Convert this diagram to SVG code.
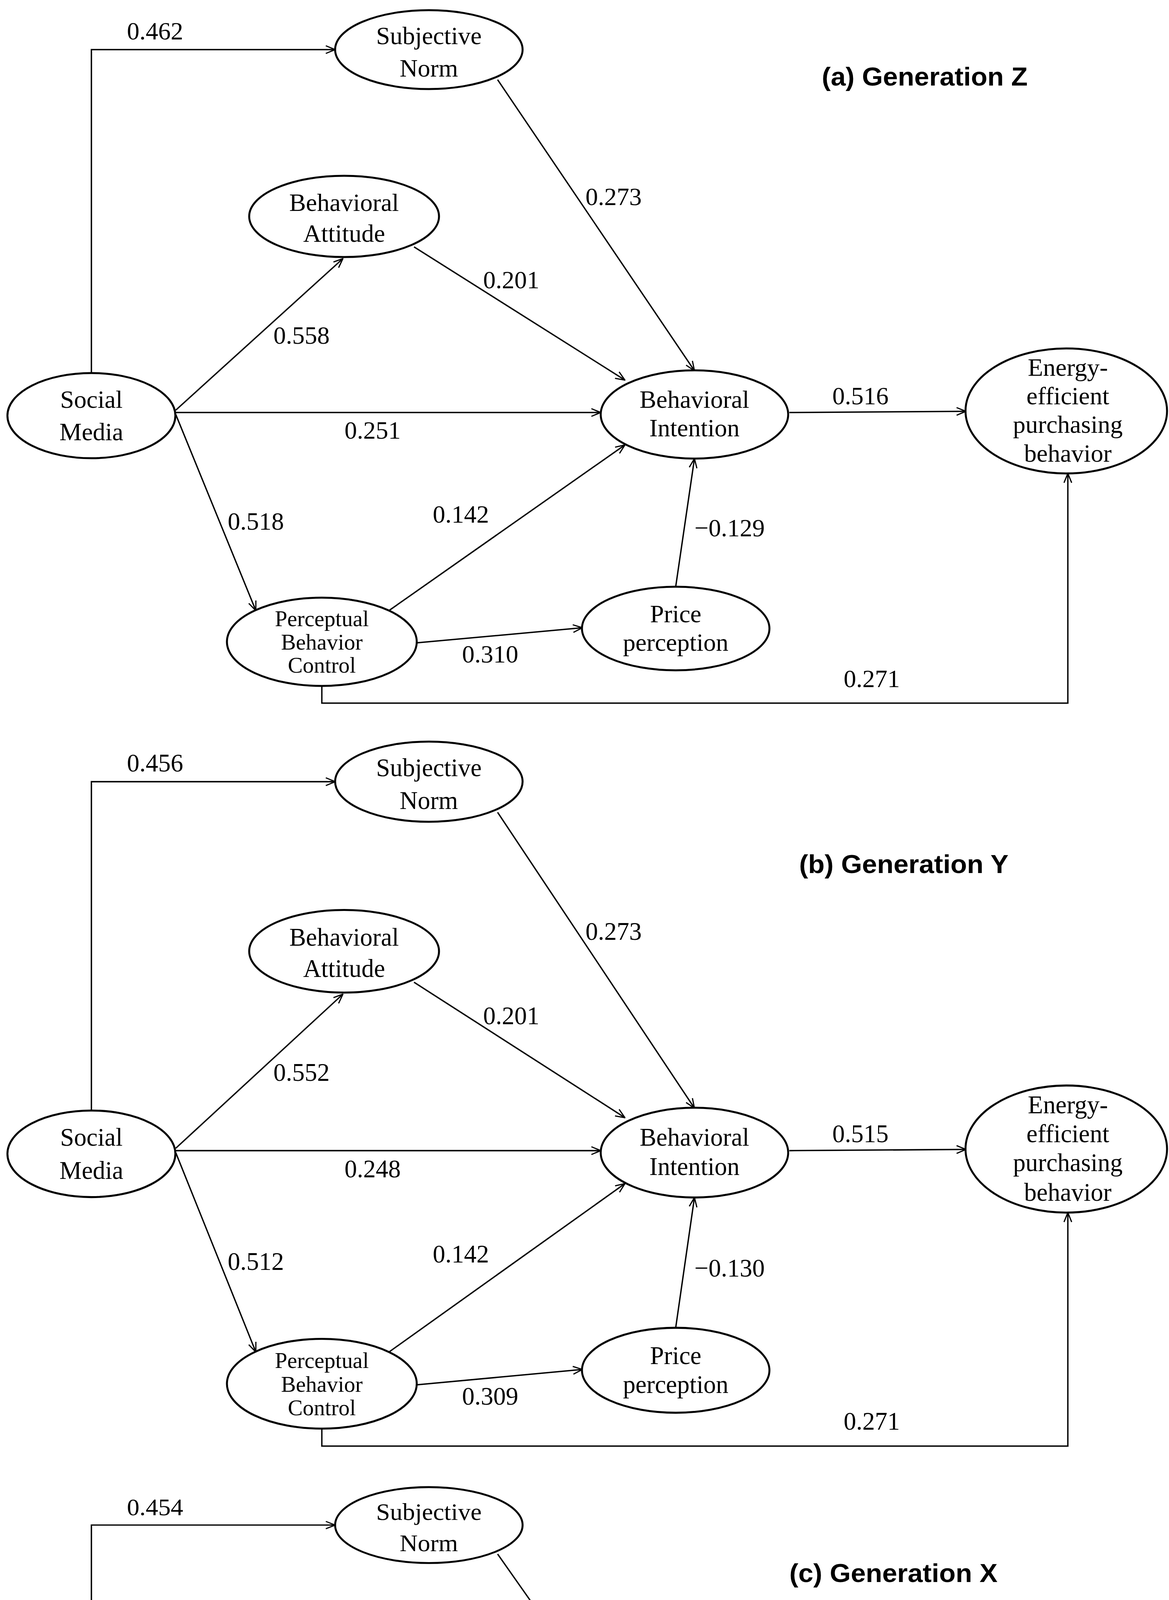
<svg xmlns="http://www.w3.org/2000/svg" width="2993" height="5520" viewBox="0 0 2993 5520">
<style>
.n{fill:#fff;stroke:#000;stroke-width:5}
.t{font-family:"Liberation Serif",serif;font-size:64px;text-anchor:middle;fill:#000}
.s{font-size:57px}
.h{font-family:"Liberation Sans",sans-serif;font-weight:bold;font-size:66px;fill:#000}
.c{fill:none;stroke:#000;stroke-width:3.5;marker-end:url(#a)}
</style>
<defs>
<marker id="a" viewBox="0 0 20 20" refX="19" refY="10" markerWidth="28" markerHeight="28" markerUnits="userSpaceOnUse" orient="auto">
<polyline points="2,3 19,10 2,17" fill="none" stroke="#000" stroke-width="2.2"/>
</marker>
</defs>
<rect width="2993" height="5520" fill="#fff"/>
<text class="h" x="2104" y="219" textLength="527" lengthAdjust="spacingAndGlyphs">(a) Generation Z</text>
<text class="h" x="2046" y="2235" textLength="536" lengthAdjust="spacingAndGlyphs">(b) Generation Y</text>
<text class="h" x="2021" y="4050" textLength="533" lengthAdjust="spacingAndGlyphs">(c) Generation X</text>

<g id="panelA">
<g id="connectorsA">
<polyline class="c" points="234,955 234,127 858,127"/>
<line class="c" x1="1274" y1="204" x2="1778" y2="949"/>
<line class="c" x1="1060" y1="632" x2="1600" y2="973"/>
<line class="c" x1="450" y1="1050" x2="878" y2="662"/>
<line class="c" x1="450" y1="1056" x2="1538" y2="1056"/>
<line class="c" x1="2021" y1="1056" x2="2473" y2="1053"/>
<line class="c" x1="450" y1="1061" x2="655" y2="1563"/>
<line class="c" x1="996" y1="1563" x2="1600" y2="1139"/>
<line class="c" x1="1063" y1="1646" x2="1491" y2="1607"/>
<line class="c" x1="1730" y1="1502" x2="1778" y2="1174"/>
<polyline class="c" points="824,1756 824,1800 2734,1800 2734,1212"/>
</g>
<g class="t">
<text x="397" y="101">0.462</text><text x="1571" y="525">0.273</text><text x="1309" y="738">0.201</text>
<text x="772" y="880">0.558</text><text x="2203" y="1035">0.516</text><text x="954" y="1123">0.251</text>
<text x="655" y="1356">0.518</text><text x="1180" y="1338">0.142</text><text x="1868" y="1373">−0.129</text>
<text x="1255" y="1696">0.310</text><text x="2232" y="1759">0.271</text>
</g>
<g id="snA"><ellipse class="n" cx="1098" cy="127" rx="240" ry="101"/><text class="t" x="1098" y="113">Subjective</text><text class="t" x="1098" y="196">Norm</text></g>
<g id="baA"><ellipse class="n" cx="881" cy="554" rx="243" ry="104"/><text class="t" x="881" y="540">Behavioral</text><text class="t" x="881" y="619">Attitude</text></g>
<g id="smA"><ellipse class="n" cx="234" cy="1064" rx="215" ry="109"/><text class="t" x="234" y="1044">Social</text><text class="t" x="234" y="1127">Media</text></g>
<g id="biA"><ellipse class="n" cx="1778" cy="1061" rx="240" ry="113"/><text class="t" x="1778" y="1044">Behavioral</text><text class="t" x="1778" y="1117">Intention</text></g>
<g id="eeA"><ellipse class="n" cx="2730" cy="1052" rx="258" ry="160"/><text class="t" x="2734" y="962">Energy-</text><text class="t" x="2734" y="1035">efficient</text><text class="t" x="2734" y="1108">purchasing</text><text class="t" x="2734" y="1182">behavior</text></g>
<g id="pbcA"><ellipse class="n" cx="824" cy="1643" rx="243" ry="113"/><text class="t s" x="824" y="1603">Perceptual</text><text class="t s" x="824" y="1663">Behavior</text><text class="t s" x="824" y="1722">Control</text></g>
<g id="ppA"><ellipse class="n" cx="1730" cy="1609" rx="240" ry="107"/><text class="t" x="1730" y="1593">Price</text><text class="t" x="1730" y="1666">perception</text></g>
</g>

<g id="panelB" transform="translate(0,1872) scale(1,1.0167)">
<g id="connectorsB">
<polyline class="c" points="234,955 234,127 858,127"/>
<line class="c" x1="1274" y1="204" x2="1778" y2="949"/>
<line class="c" x1="1060" y1="632" x2="1600" y2="973"/>
<line class="c" x1="450" y1="1050" x2="878" y2="662"/>
<line class="c" x1="450" y1="1056" x2="1538" y2="1056"/>
<line class="c" x1="2021" y1="1056" x2="2473" y2="1053"/>
<line class="c" x1="450" y1="1061" x2="655" y2="1563"/>
<line class="c" x1="996" y1="1563" x2="1600" y2="1139"/>
<line class="c" x1="1063" y1="1646" x2="1491" y2="1607"/>
<line class="c" x1="1730" y1="1502" x2="1778" y2="1174"/>
<polyline class="c" points="824,1756 824,1800 2734,1800 2734,1212"/>
</g>
<g class="t">
<text x="397" y="101">0.456</text><text x="1571" y="525">0.273</text><text x="1309" y="738">0.201</text>
<text x="772" y="880">0.552</text><text x="2203" y="1035">0.515</text><text x="954" y="1123">0.248</text>
<text x="655" y="1356">0.512</text><text x="1180" y="1338">0.142</text><text x="1868" y="1373">−0.130</text>
<text x="1255" y="1696">0.309</text><text x="2232" y="1759">0.271</text>
</g>
<g id="snB"><ellipse class="n" cx="1098" cy="127" rx="240" ry="101"/><text class="t" x="1098" y="113">Subjective</text><text class="t" x="1098" y="196">Norm</text></g>
<g id="baB"><ellipse class="n" cx="881" cy="554" rx="243" ry="104"/><text class="t" x="881" y="540">Behavioral</text><text class="t" x="881" y="619">Attitude</text></g>
<g id="smB"><ellipse class="n" cx="234" cy="1064" rx="215" ry="109"/><text class="t" x="234" y="1044">Social</text><text class="t" x="234" y="1127">Media</text></g>
<g id="biB"><ellipse class="n" cx="1778" cy="1061" rx="240" ry="113"/><text class="t" x="1778" y="1044">Behavioral</text><text class="t" x="1778" y="1117">Intention</text></g>
<g id="eeB"><ellipse class="n" cx="2730" cy="1052" rx="258" ry="160"/><text class="t" x="2734" y="962">Energy-</text><text class="t" x="2734" y="1035">efficient</text><text class="t" x="2734" y="1108">purchasing</text><text class="t" x="2734" y="1182">behavior</text></g>
<g id="pbcB"><ellipse class="n" cx="824" cy="1643" rx="243" ry="113"/><text class="t s" x="824" y="1603">Perceptual</text><text class="t s" x="824" y="1663">Behavior</text><text class="t s" x="824" y="1722">Control</text></g>
<g id="ppB"><ellipse class="n" cx="1730" cy="1609" rx="240" ry="107"/><text class="t" x="1730" y="1593">Price</text><text class="t" x="1730" y="1666">perception</text></g>
</g>

<g id="panelC" transform="translate(0,3782) scale(1,0.962)">
<g id="connectorsC">
<polyline class="c" points="234,955 234,127 858,127"/>
<line class="c" x1="1274" y1="204" x2="1778" y2="949"/>
<line class="c" x1="1060" y1="632" x2="1600" y2="973"/>
<line class="c" x1="450" y1="1050" x2="878" y2="662"/>
<line class="c" x1="450" y1="1056" x2="1538" y2="1056"/>
<line class="c" x1="2021" y1="1056" x2="2473" y2="1053"/>
<line class="c" x1="450" y1="1061" x2="655" y2="1563"/>
<line class="c" x1="996" y1="1563" x2="1600" y2="1139"/>
<line class="c" x1="1063" y1="1646" x2="1491" y2="1607"/>
<line class="c" x1="1730" y1="1502" x2="1778" y2="1174"/>
<polyline class="c" points="824,1756 824,1800 2734,1800 2734,1212"/>
</g>
<g class="t">
<text x="397" y="101">0.454</text><text x="1571" y="525">0.274</text><text x="1309" y="738">0.201</text>
<text x="772" y="880">0.550</text><text x="2203" y="1035">0.515</text><text x="954" y="1123">0.248</text>
<text x="655" y="1356">0.510</text><text x="1180" y="1338">0.142</text><text x="1868" y="1373">−0.130</text>
<text x="1255" y="1696">0.309</text><text x="2232" y="1759">0.271</text>
</g>
<g id="snC"><ellipse class="n" cx="1098" cy="127" rx="240" ry="101"/><text class="t" x="1098" y="113">Subjective</text><text class="t" x="1098" y="196">Norm</text></g>
<g id="baC"><ellipse class="n" cx="881" cy="554" rx="243" ry="104"/><text class="t" x="881" y="540">Behavioral</text><text class="t" x="881" y="619">Attitude</text></g>
<g id="smC"><ellipse class="n" cx="234" cy="1064" rx="215" ry="109"/><text class="t" x="234" y="1044">Social</text><text class="t" x="234" y="1127">Media</text></g>
<g id="biC"><ellipse class="n" cx="1778" cy="1061" rx="240" ry="113"/><text class="t" x="1778" y="1044">Behavioral</text><text class="t" x="1778" y="1117">Intention</text></g>
<g id="eeC"><ellipse class="n" cx="2730" cy="1052" rx="258" ry="160"/><text class="t" x="2734" y="962">Energy-</text><text class="t" x="2734" y="1035">efficient</text><text class="t" x="2734" y="1108">purchasing</text><text class="t" x="2734" y="1182">behavior</text></g>
<g id="pbcC"><ellipse class="n" cx="824" cy="1643" rx="243" ry="113"/><text class="t s" x="824" y="1603">Perceptual</text><text class="t s" x="824" y="1663">Behavior</text><text class="t s" x="824" y="1722">Control</text></g>
<g id="ppC"><ellipse class="n" cx="1730" cy="1609" rx="240" ry="107"/><text class="t" x="1730" y="1593">Price</text><text class="t" x="1730" y="1666">perception</text></g>
</g>
</svg>
